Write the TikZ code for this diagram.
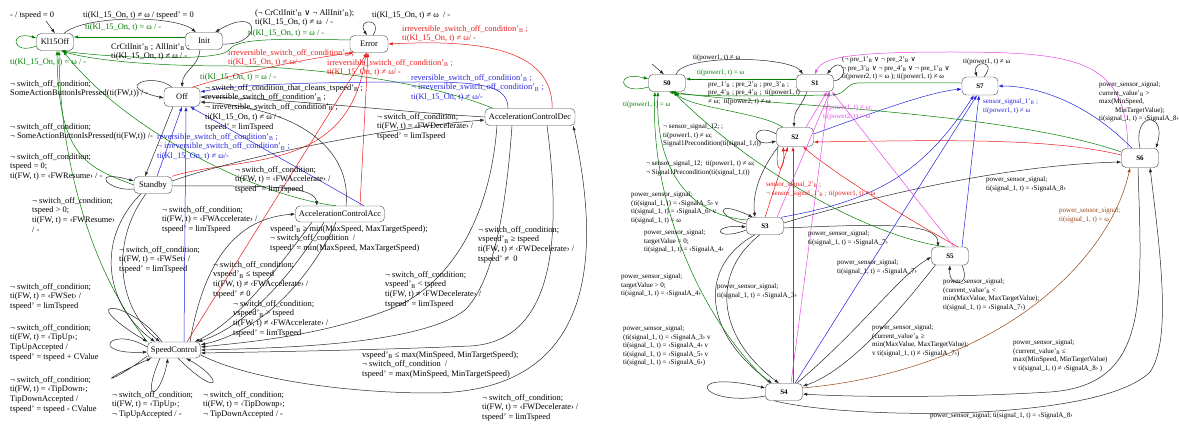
\documentclass[tikz,border=0pt]{standalone}
\usepackage{fontspec}
\setmainfont{Liberation Serif}
\newfontfamily\symf{DejaVu Sans}
\usetikzlibrary{arrows.meta}
\definecolor{grn}{RGB}{0,125,0}
\definecolor{rd}{RGB}{235,25,25}
\definecolor{bl}{RGB}{35,35,220}
\definecolor{mg}{RGB}{235,70,235}
\definecolor{brn}{RGB}{150,70,20}
\newcommand\lf{\fontsize{8.4}{9.8}\selectfont}
\newcommand\rf{\fontsize{7}{8.5}\selectfont}
\newcommand\pB{'\textsubscript{B}}
\newcommand\orr{{\symf\char"2228}}
\tikzset{
 stn/.style={draw=black!75, rounded corners=4.5pt, minimum height=17pt, inner sep=1.5pt, font=\lf},
 rstn/.style={stn, font=\rf\bfseries, minimum width=37pt},
 lbl/.style={anchor=north west, align=left, font=\lf, inner sep=0pt},
 rlbl/.style={anchor=north west, align=left, font=\rf, inner sep=0pt},
 ed/.style={draw=black!85, line width=.5pt, -{Latex[length=4.5pt,width=3.2pt]}},
 edg/.style={ed, draw=grn}, edr/.style={ed, draw=rd}, edb/.style={ed, draw=bl},
 edm/.style={ed, draw=mg}, edbr/.style={ed, draw=brn}
}
\begin{document}
\catcode`\_=12
\begin{tikzpicture}[x=1pt,y=-1pt]
\useasboundingbox (0,0) rectangle (1179,425);
% ---------------- left states
\node[stn, minimum width=37pt] (K) at (55,42) {Kl15Off};
\node[stn, minimum width=37pt] (I) at (204,41) {Init};
\node[stn, minimum width=38pt] (Er) at (369,44) {Error};
\node[stn, minimum width=36pt, minimum height=19pt] (Of) at (182,97) {Off};
\node[stn, minimum width=90pt] (ACD) at (530,117) {AccelerationControlDec};
\node[stn, minimum width=38pt] (Sb) at (153,185) {Standby};
\node[stn, minimum width=89pt, minimum height=16pt] (ACA) at (340,214) {AccelerationControlAcc};
\node[stn, minimum width=53pt, minimum height=16pt] (SC) at (174,350) {SpeedControl};
% ---------------- left edges
\coordinate (k0) at (46,21);
\draw[ed] (k0) -- (K.north);
\draw[edg] ([yshift=-4pt]K.west) .. controls (12,56) and (8,30) .. ([yshift=4pt]K.west);
\draw[ed] ([xshift=9pt]K.north) .. controls (85,15) and (175,15) .. ([xshift=-8pt]I.north);
\draw[edg] ([yshift=4pt]I.west) -- ([yshift=5pt]K.east);
\draw[ed] ([yshift=-3pt]I.east) .. controls (262,46) and (262,4) .. ([xshift=11pt]I.north);
\draw[ed] ([xshift=-4pt]I.south) .. controls (198,68) and (183,70) .. (Of.north);
\draw[ed] ([xshift=4pt]Er.north) .. controls (384,18) and (356,18) .. ([xshift=-2pt]Er.north);
\draw[edg] ([yshift=4pt]Er.west) .. controls (260,38) and (236,40) .. (229,50) .. controls (220,62) and (110,58) .. ([xshift=6pt]K.south);
\draw[edg] ([xshift=8pt]ACD.north west) .. controls (420,78) and (290,66) .. (230,66) .. controls (150,66) and (90,60) .. ([xshift=6pt]K.south);
\draw[edg] (Sb.west) .. controls (90,168) and (58,160) .. ([xshift=2pt]K.south);
\draw[edg] (SC.north west) .. controls (90,270) and (60,160) .. ([xshift=4pt]K.south);
\draw[edg] ([xshift=-4pt]ACA.north) .. controls (250,195) and (120,125) .. ([xshift=8pt]K.south);
\draw[edr] ([xshift=10pt]Of.north) .. controls (240,72) and (310,58) .. ([xshift=4pt]Er.south west);
\draw[edr] ([xshift=-23pt]ACD.north east) .. controls (553,45) and (470,40) .. (Er.east);
\draw[edr] (Sb.north east) .. controls (240,155) and (350,175) .. ([xshift=-3pt]Er.south);
\draw[edr] ([xshift=20pt]ACA.north) -- ([xshift=-1pt]Er.south);
\draw[edr] ([xshift=13pt]SC.north) -- ([xshift=-2pt]Er.south);
\draw[edb] ([xshift=-22pt]ACD.north) .. controls (508,85) and (480,82) .. (420,82) .. controls (320,82) and (240,84) .. ([yshift=5pt]Of.east);
\draw[edb] ([xshift=4pt]Sb.north) -- (Of.south);
\draw[edb] ([xshift=10pt]SC.north) -- ([xshift=4pt]Of.south);
\draw[edb] ([xshift=24pt]ACA.north) -- ([xshift=8pt]Of.south);
\draw[ed] (ACD.west) .. controls (400,112) and (280,98) .. (Of.east);
\draw[ed] ([xshift=6pt]ACA.north) .. controls (352,150) and (300,108) .. ([yshift=-5pt]Of.east);
\draw[ed] ([xshift=-10pt]Of.north) .. controls (155,72) and (110,86) .. ([yshift=-1pt]Of.west);
\draw[ed] ([xshift=-9pt]Of.south) -- ([xshift=-8pt]Sb.north);
\draw[ed] ([yshift=-4pt]Sb.west) .. controls (108,192) and (88,168) .. ([yshift=4pt]Sb.west);
\draw[ed] ([yshift=-1pt]Sb.east) .. controls (250,186) and (315,184) .. ([xshift=-23pt]ACA.north);
\draw[ed] ([yshift=4pt]Sb.east) .. controls (230,160) and (380,128) .. ([yshift=-3pt]ACD.west);
\draw[ed] ([xshift=-12pt]Sb.south) .. controls (95,240) and (105,305) .. ([xshift=-19pt]SC.north);
\draw[ed] ([xshift=-7pt]Sb.south) .. controls (108,245) and (120,310) .. ([xshift=-14pt]SC.north);
\draw[ed] ([xshift=16pt]SC.north) .. controls (205,255) and (240,218) .. (ACA.west);
\draw[ed] ([xshift=-28pt]ACA.south) .. controls (280,265) and (240,320) .. ([xshift=-6pt]SC.north east);
\draw[ed] ([xshift=-16pt]ACA.south) .. controls (295,270) and (250,325) .. ([xshift=-3pt]SC.north east);
\draw[ed] ([xshift=-4pt]ACA.south) .. controls (310,280) and (260,332) .. ([yshift=-3pt]SC.north east);
\draw[ed] ([xshift=-33pt]ACD.south) .. controls (490,220) and (450,280) .. (400,305) .. controls (330,335) and (250,342) .. ([yshift=3pt]SC.east);
\draw[ed] ([xshift=-18pt]ACD.south) .. controls (505,225) and (490,285) .. (465,310) .. controls (420,345) and (280,348) .. (SC.east);
\draw[ed] ([xshift=17pt]ACD.south) .. controls (565,260) and (545,342) .. (470,346) .. controls (380,350) and (260,352) .. ([yshift=-3pt]SC.east);
\draw[ed] ([yshift=-5pt]SC.east) .. controls (250,380) and (350,393) .. (430,393) .. controls (600,393) and (600,250) .. ([xshift=-2pt]ACD.south east);
\draw[ed] ([xshift=-12pt]SC.north) .. controls (130,300) and (70,295) .. (SC.north west);
\draw[ed] ([yshift=3pt]SC.west) .. controls (110,325) and (88,355) .. ([yshift=-2pt]SC.west);
\draw[ed] ([yshift=-6pt]SC.west) .. controls (110,385) and (90,385) .. ([xshift=4pt]SC.south west);
\draw[ed] ([xshift=-14pt]SC.south) .. controls (140,405) and (160,400) .. ([xshift=-6pt]SC.south);
\draw[ed] ([xshift=4pt]SC.south) .. controls (220,400) and (225,380) .. ([xshift=12pt]SC.south);
% ---------------- left labels
\node[lbl] (l1) at (10,11) {- / tspeed = 0};
\node[lbl] (l2) at (83,11) {ti(Kl_15_On, t) ≠ ω / tspeed' = 0};
\node[lbl, text=grn] (l3) at (85,23) {ti(Kl_15_On, t) = ω / -};
\node[lbl] (l4) at (255,9) {(¬ CrCtlInit\pB{} \orr{} ¬ AllInit\pB);\\ti(Kl_15_On, t) ≠ ω \ / -};
\node[lbl, text=grn] (l5) at (248,29) {ti(Kl_15_On, t) = ω / -};
\node[lbl] (l6) at (372,11) {ti(Kl_15_On, t) ≠ ω \ / -};
\node[lbl, text=rd] (l7) at (402,25) {irreversible_switch_off_condition\pB{} ;\\ti(Kl_15_On, t) ≠ ω/ -};
\node[lbl] (l8) at (111,43) {CrCtlInit\pB{} ; AllInit\pB{} ;\\ti(Kl_15_On, t) ≠ ω / -};
\node[lbl, text=rd] (l9) at (228,49) {irreversible_switch_off_condition\pB{} ;\\ti(Kl_15_On, t) ≠ ω/ -};
\node[lbl, text=rd] (l10) at (327,59) {irreversible_switch_off_condition\pB{} ;\\ti(Kl_15_On, t) ≠ ω/ -};
\node[lbl, text=grn] (l11) at (10,58) {ti(Kl_15_On, t) = ω / -};
\node[lbl, text=grn] (l12) at (200,73) {ti(Kl_15_On, t) = ω / -};
\node[lbl, text=bl] (l13) at (411,74) {reversible_switch_off_condition\pB{} ;\\¬ irreversible_switch_off_condition\pB{} ;\\ti(Kl_15_On, t) ≠ ω/-};
\node[lbl] (l14) at (205,84) {¬ switch_off_condition_that_cleans_tspeed\pB{} ;\\reversible_switch_off_condition\pB{} ;\\ ¬ irreversible_switch_off_condition\pB{} ;\\ti(Kl_15_On, t) ≠ ω / -\\tspeed' = limTspeed};
\node[lbl] (l15) at (10,80) {¬ switch_off_condition;\\SomeActionButtonIsPressed(ti(FW,t)) / -};
\node[lbl] (l16) at (10,123) {¬ switch_off_condition;\\¬ SomeActionButtonIsPressed(ti(FW,t)) /-};
\node[lbl, text=bl] (l17) at (157,133) {reversible_switch_off_condition\pB{} ;\\¬ irreversible_switch_off_condition\pB{} ;\\ti(Kl_15_On, t) ≠ ω/-};
\node[lbl] (l18) at (10,153) {¬ switch_off_condition;\\tspeed = 0;\\ti(FW, t) = ‹FWResume› / -};
\node[lbl] (l19) at (235,166) {¬ switch_off_condition;\\ti(FW, t) = ‹FWAccelerate› /\\tspeed' = limTspeed};
\node[lbl] (l20) at (32,197) {¬ switch_off_condition;\\tspeed > 0;\\ti(FW, t) = ‹FWResume›\\/ -};
\node[lbl] (l21) at (162,206) {¬ switch_off_condition;\\ti(FW, t) = ‹FWAccelerate› /\\tspeed' = limTspeed};
\node[lbl] (l22) at (270,225) {vspeed\pB{} ≥ min(MaxSpeed, MaxTargetSpeed);\\¬ switch_off_condition \ /\\tspeed' = min(MaxSpeed, MaxTargetSpeed)};
\node[lbl] (l23) at (213,261) {¬ switch_off_condition;\\vspeed\pB{} ≤ tspeed\\ti(FW, t) ≠ ‹FWAccelerate› /\\tspeed' ≠ 0};
\node[lbl] (l24) at (233,300) {¬ switch_off_condition;\\vspeed\pB{} > tspeed\\ti(FW, t) ≠ ‹FWAccelerate› /\\tspeed' = limTspeed};
\node[lbl] (l25) at (377,113) {¬ switch_off_condition;\\ti(FW, t) = ‹FWDecelerate› /\\tspeed' = limTspeed};
\node[lbl] (l26) at (478,226) {¬ switch_off_condition;\\vspeed\pB{} ≥ tspeed\\ti(FW, t) ≠ ‹FWDecelerate› /\\tspeed' ≠ \ 0};
\node[lbl] (l27) at (385,271) {¬ switch_off_condition;\\vspeed\pB{} < tspeed\\ti(FW, t) ≠ ‹FWDecelerate› /\\tspeed' = limTspeed};
\node[lbl] (l28) at (362,351) {vspeed\pB{} ≤ max(MinSpeed, MinTargetSpeed);\\¬ switch_off_condition \ /\\tspeed' = max(MinSpeed, MinTargetSpeed)};
\node[lbl] (l29) at (482,394) {¬ switch_off_condition;\\ti(FW, t) = ‹FWDecelerate› /\\tspeed' = limTspeed};
\node[lbl] (l30) at (119,246) {¬ switch_off_condition;\\ti(FW, t) = ‹FWSet› /\\tspeed' = limTspeed};
\node[lbl] (l31) at (10,283) {¬ switch_off_condition;\\ti(FW, t) = ‹FWSet› /\\tspeed' = limTspeed};
\node[lbl] (l32) at (10,324) {¬ switch_off_condition;\\ti(FW, t) = ‹TipUp›;\\TipUpAccepted /\\tspeed' = tspeed + CValue};
\node[lbl] (l33) at (10,376) {¬ switch_off_condition;\\ti(FW, t) = ‹TipDown›;\\TipDownAccepted /\\tspeed' = tspeed - CValue};
\node[lbl] (l34) at (112,391) {¬ switch_off_condition;\\ti(FW, t) = ‹TipUp›;\\¬ TipUpAccepted / -};
\node[lbl] (l35) at (203,391) {¬ switch_off_condition;\\ti(FW, t) = ‹TipDownp›;\\¬ TipDownAccepted / -};
% ---------------- right states
\node[rstn] (S0) at (667,83) {S0};
\node[rstn] (S1) at (815,83) {S1};
\node[rstn, minimum height=19pt] (S2) at (795,137) {S2};
\node[rstn, minimum width=36pt, minimum height=18pt] (S7) at (980,86) {S7};
\node[rstn] (S3) at (765,226) {S3};
\node[rstn, minimum height=19pt] (S6) at (1140,158) {S6};
\node[rstn, minimum height=18pt] (S5) at (950,256) {S5};
\node[rstn] (S4) at (784,392) {S4};
% ---------------- right edges
\coordinate (r0) at (652,64);
\draw[ed] (r0) -- ([xshift=-3pt]S0.north);
\draw[edg] ([yshift=-4pt]S0.west) .. controls (618,96) and (614,70) .. ([yshift=4pt]S0.west);
\draw[ed] ([xshift=9pt]S0.north) .. controls (682,54) and (790,56) .. ([xshift=-12pt]S1.north);
\draw[edg] ([yshift=4pt]S1.west) -- ([yshift=4pt]S0.east);
\draw[ed] ([xshift=-8pt]S1.south) .. controls (800,110) and (794,108) .. ([xshift=-1pt]S2.north);
\draw[ed] ([yshift=2pt]S1.east) .. controls (852,78) and (842,54) .. ([xshift=12pt]S1.north);
\draw[ed] ([xshift=4pt]S7.north) .. controls (998,60) and (972,60) .. ([xshift=-3pt]S7.north);
\draw[ed] (S6.north) .. controls (1132,110) and (1168,112) .. ([xshift=-3pt]S6.north east);
\draw[ed] ([yshift=3pt]S2.west) .. controls (752,120) and (748,148) .. ([yshift=-4pt]S2.west);
\draw[edr] ([xshift=-17pt]S2.south) .. controls (774,178) and (786,172) .. ([xshift=-12pt]S2.south);
\draw[ed] ([xshift=2pt]S2.south west) .. controls (760,170) and (752,195) .. ([xshift=-10pt]S3.north);
\draw[ed] ([yshift=2pt]S3.west) .. controls (718,218) and (712,198) .. ([xshift=-12pt]S3.north);
\draw[ed] ([yshift=-4pt]S3.west) .. controls (715,242) and (710,224) .. ([yshift=-1pt]S3.west);
\draw[ed] ([xshift=-10pt]S3.south) .. controls (700,265) and (700,330) .. ([xshift=-12pt]S4.north);
\draw[ed] ([xshift=-5pt]S3.south) .. controls (712,272) and (715,335) .. ([xshift=-5pt]S4.north);
\draw[ed] ([yshift=-2pt]S3.east) .. controls (880,224) and (938,222) .. ([xshift=-12pt]S5.north);
\draw[ed] ([yshift=3pt]S3.east) .. controls (860,200) and (1000,165) .. ([yshift=-4pt]S6.west);
\draw[ed] ([yshift=-4pt]S4.west) .. controls (700,408) and (678,368) .. ([yshift=4pt]S4.west);
\draw[ed] ([xshift=-10pt]S4.south) .. controls (850,420) and (1100,422) .. (1150,372) .. controls (1172,340) and (1160,250) .. ([xshift=10pt]S6.south);
\draw[ed] ([xshift=-2pt]S6.south) .. controls (1142,300) and (1150,385) .. (1050,392) .. controls (950,398) and (850,397) .. ([yshift=-2pt]S4.east);
\draw[edbr] ([yshift=4pt]S4.east) .. controls (1000,370) and (1110,260) .. ([xshift=-10pt]S6.south);
\draw[ed] ([xshift=12pt]S5.south) .. controls (972,288) and (948,288) .. (S5.south);
\draw[ed] ([xshift=-6pt]S4.north east) .. controls (860,330) and (900,275) .. ([yshift=-1pt]S5.west);
\draw[ed] ([xshift=4pt]S5.south west) .. controls (900,310) and (850,370) .. ([yshift=-3pt]S4.north east);
% to S2 (red)
\draw[edr] (S3.north) -- ([xshift=-7pt]S2.south);
\draw[edr] ([xshift=9pt]S4.north) -- ([xshift=-2pt]S2.south);
\draw[edr] ([xshift=8pt]S5.north) .. controls (900,215) and (830,170) .. ([xshift=8pt]S2.south);
\draw[edr] ([yshift=3pt]S6.west) .. controls (1050,138) and (950,140) .. ([yshift=-5pt]S2.east);
% to S1 (magenta)
\draw[edm] ([xshift=11pt]S2.north) -- ([xshift=12pt]S1.south);
\draw[edm] ([xshift=12pt]S3.north) -- ([xshift=15pt]S1.south);
\draw[edm] ([xshift=7pt]S4.north) -- ([xshift=14pt]S1.south);
\draw[edm] ([xshift=4pt]S5.north) -- ([xshift=17pt]S1.south);
\draw[edm] ([xshift=-12pt]S6.north) .. controls (1126,60) and (1080,52) .. (950,52) .. controls (860,52) and (822,56) .. (S1.north);
% to S7 (blue)
\draw[edb] ([yshift=3pt]S2.east) .. controls (880,110) and (930,92) .. ([yshift=-3pt]S7.west);
\draw[edb] ([xshift=16pt]S3.north) .. controls (880,200) and (925,170) .. ([xshift=-6pt]S7.south);
\draw[edb] ([xshift=11pt]S4.north) -- ([xshift=-3pt]S7.south);
\draw[edb] ([xshift=12pt]S5.north) -- ([xshift=-1pt]S7.south);
\draw[edb] ([xshift=-8pt]S6.north) .. controls (1090,105) and (1040,86) .. (S7.east);
% to S0 (green)
\draw[edg] ([yshift=3pt]S7.west) -- (858,83) .. controls (846,83) and (846,95) .. (832,95) .. controls (760,96) and (690,97) .. ([xshift=2pt]S0.south);
\draw[edg] ([xshift=-12pt]S2.north) .. controls (760,112) and (690,108) .. ([xshift=8pt]S0.south);
\draw[edg] ([yshift=6pt]S3.west) .. controls (690,215) and (655,170) .. ([xshift=-9pt]S0.south);
\draw[edg] ([xshift=-14pt]S4.north) .. controls (700,320) and (650,200) .. ([xshift=-12pt]S0.south);
\draw[edg] ([xshift=-5pt]S5.north) .. controls (860,235) and (740,160) .. ([xshift=6pt]S0.south);
\draw[edg] ([yshift=6pt]S6.west) .. controls (1000,110) and (750,105) .. ([xshift=4pt]S0.south);
% ---------------- right labels
\node[rlbl] (m1) at (693,54.6) {ti(power1, t) ≠ ω};
\node[rlbl, text=grn] (m2) at (697,69.6) {ti(power1, t) = ω};
\node[rlbl] (m3) at (708,81.6) {pre_1\pB{} ; pre_2\pB{} ; pre_3\pB{} ;\\pre_4\pB{} ; pre_4\pB{} ; \ ti(power1, t)\\≠ ω; \ ti(power2, t) ≠ ω};
\node[rlbl] (m4) at (842,56.6) {(¬ pre_1\pB{} \orr{} ¬ pre_2\pB{} \orr\\¬ pre_3\pB{} \orr{} ¬ pre_4\pB{} \orr{} ¬ pre_1\pB{} \orr\\ti(power2, t) = ω ); ti(power1, t) ≠ ω};
\node[rlbl, text=grn] (m5) at (623,101.6) {ti(power1, t) = ω};
\node[rlbl] (m6) at (663,123.6) {¬ sensor_signal_12; ;\\ti(power1, t) ≠ ω;\\Signal1Precondition(ti(signal_1,t))};
\node[rlbl, text=mg] (m7) at (823,104.6) {ti(power1, t) ≠ ω;\\ti(power2, t) = ω};
\node[rlbl, text=bl] (m8) at (983,98.6) {sensor_signal_1\pB{} ;\\ti(power1, t) ≠ ω};
\node[rlbl] (m9) at (963,58.6) {ti(power1, t) ≠ ω};
\node[rlbl] (m10) at (1099,81.6) {power_sensor_signal;\\current_value\pB{} >\\max(MinSpeed,\\\hspace*{16pt}MinTargetValue);\\ti(signal_1, t) = ‹SignalA_8›};
\node[rlbl] (m11) at (646,160.6) {¬ sensor_signal_12; \ ti(power1, t) ≠ ω;\\¬ Signal1Precondition(ti(signal_1,t))};
\node[rlbl, text=rd] (m12) at (766,181.6) {sensor_signal_2\pB{} ;\\¬ sensor_signal_1\pB{} ; ti(power1, t) ≠ ω};
\node[rlbl] (m13) at (986,176.6) {power_sensor_signal;\\ti(signal_1, t) = ‹SignalA_8›};
\node[rlbl, text=brn] (m14) at (1059,207.6) {power_sensor_signal;\\ti(signal_1, t) = ω};
\node[rlbl] (m15) at (631,191.6) {power_sensor_signal;\\(ti(signal_1, t) = ‹SignalA_5› v\\ti(signal_1, t) = ‹SignalA_6› v\\ti(signal_1, t) = ω};
\node[rlbl] (m16) at (644,229.6) {power_sensor_signal;\\targetValue = 0;\\ti(signal_1, t) = ‹SignalA_4›};
\node[rlbl] (m17) at (808,230.6) {power_sensor_signal;\\ti(signal_1, t) = ‹SignalA_7›};
\node[rlbl] (m18) at (837,259.6) {power_sensor_signal;\\ti(signal_1, t) = ‹SignalA_7›};
\node[rlbl] (m19) at (621,273.6) {power_sensor_signal;\\targetValue > 0;\\ti(signal_1, t) = ‹SignalA_4›};
\node[rlbl] (m20) at (717,283.6) {power_sensor_signal;\\ti(signal_1, t) = ‹SignalA_3›};
\node[rlbl] (m21) at (623,325.6) {power_sensor_signal;\\(ti(signal_1, t) = ‹SignalA_3› v\\ti(signal_1, t) = ‹SignalA_4› v\\ti(signal_1, t) = ‹SignalA_5› v\\ti(signal_1, t) = ‹SignalA_6›)};
\node[rlbl] (m22) at (943,278.6) {power_sensor_signal;\\ (current_value\pB{} <\\min(MaxValue, MaxTargetValue);\\ ti(signal_1, t) = ‹SignalA_7›)};
\node[rlbl] (m23) at (872,324.6) {power_sensor_signal;\\ (current_value\pB{} ≥\\min(MaxValue, MaxTargetValue);\\ v ti(signal_1, t) ≠ ‹SignalA_7›)};
\node[rlbl] (m24) at (1013,339.6) {power_sensor_signal;\\(current_value\pB{} ≤\\max(MinSpeed, MinTargetValue)\\v ti(signal_1, t) ≠ ‹SignalA_8› )};
\node[rlbl] (m25) at (930,412.6) {power_sensor_signal; ti(signal_1, t) = ‹SignalA_8›};
\end{tikzpicture}
\end{document}
